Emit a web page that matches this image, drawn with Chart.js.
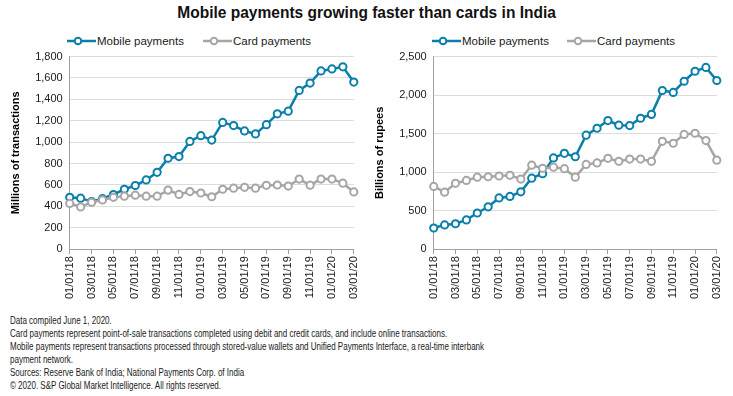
<!DOCTYPE html>
<html>
<head>
<meta charset="utf-8">
<script src="https://cdn.jsdelivr.net/npm/chart.js@4.4.1/dist/chart.umd.min.js"></script>
<style>
  body { margin: 0; width: 733px; height: 396px; background: #fff; position: relative; overflow: hidden;
         font-family: "Liberation Sans", Arial, sans-serif; color: #1a1a1a; }
  #title { position: absolute; top: 4px; left: 0; width: 733px; text-align: center; font-weight: bold; font-size: 16px;
           transform: scaleX(0.97); transform-origin: 370px 0; color: #111; }
  .box { position: absolute; }
  .legend { position: absolute; top: 35px; font-size: 11.5px; white-space: nowrap; }
  .legend span.item { position: absolute; top: 0; }
  .legend canvas { vertical-align: middle; margin-right: 1px; position: relative; top: -1px; }
  #notes { position: absolute; left: 10px; top: 314px; font-size: 11.5px; line-height: 13px; white-space: nowrap;
           transform: scaleX(0.695); transform-origin: 0 0; }
</style>
</head>
<body>
<div id="title">Mobile payments growing faster than cards in India</div>

<div class="legend" id="legLeft" style="left:67px"></div>
<div class="legend" id="legRight" style="left:432px"></div>

<div class="box" style="left:0px; top:43px; width:369px; height:258px;"><canvas id="chartLeft"></canvas></div>
<div class="box" style="left:366px; top:43px; width:366px; height:258px;"><canvas id="chartRight"></canvas></div>

<div id="notes">
Data compiled June 1, 2020.<br>
Card payments represent point-of-sale transactions completed using debit and credit cards, and include online transactions.<br>
Mobile payments represent transactions processed through stored-value wallets and Unified Payments Interface, a real-time interbank<br>
payment network.<br>
Sources: Reserve Bank of India; National Payments Corp. of India<br>
&copy; 2020. S&amp;P Global Market Intelligence. All rights reserved.
</div>

<script>
const months = [
  '01/01/18','02/01/18','03/01/18','04/01/18','05/01/18','06/01/18','07/01/18','08/01/18','09/01/18',
  '10/01/18','11/01/18','12/01/18','01/01/19','02/01/19','03/01/19','04/01/19','05/01/19','06/01/19',
  '07/01/19','08/01/19','09/01/19','10/01/19','11/01/19','12/01/19','01/01/20','02/01/20','03/01/20'
];

// millions of transactions
const mobileVolume = [485,477,445,472,511,560,595,647,718,850,866,1007,1061,1020,1185,1155,1105,1077,1164,1265,1290,1484,1553,1666,1685,1704,1562];
const cardVolume   = [428,395,438,460,485,495,505,495,495,552,512,538,525,490,560,570,578,570,597,600,590,655,598,655,655,617,535];

// billions of rupees
const mobileValue = [275,315,330,380,470,550,665,685,745,922,979,1185,1245,1200,1480,1570,1670,1610,1605,1700,1750,2060,2035,2180,2310,2360,2190];
const cardValue   = [815,740,855,892,935,940,950,960,910,1090,1050,1065,1045,935,1100,1120,1180,1140,1170,1170,1140,1400,1375,1490,1505,1410,1155];

const blue = '#0B7FAB';
const grey = '#A6A6A6';
const seriesNames = ['Mobile payments', 'Card payments'];

function legendIcon(color) {
  const c = document.createElement('canvas');
  c.width = 29; c.height = 10;
  const g = c.getContext('2d');
  g.strokeStyle = color; g.lineWidth = 2.5;
  g.beginPath(); g.moveTo(0, 5); g.lineTo(29, 5); g.stroke();
  g.fillStyle = '#fff'; g.lineWidth = 2;
  g.beginPath(); g.arc(11, 5, 3.3, 0, Math.PI * 2); g.fill(); g.stroke();
  return c;
}

function buildLegend(id, offsets) {
  const el = document.getElementById(id);
  [blue, grey].forEach((col, i) => {
    const s = document.createElement('span');
    s.className = 'item';
    s.style.left = offsets[i] + 'px';
    s.appendChild(legendIcon(col));
    s.appendChild(document.createTextNode(seriesNames[i]));
    el.appendChild(s);
  });
}
buildLegend('legLeft', [0, 136]);
buildLegend('legRight', [0, 135]);

const font = { family: '"Liberation Sans", Arial, sans-serif', size: 11 };

function ds(label, data, color) {
  return {
    label: label, data: data, borderColor: color, backgroundColor: '#fff',
    borderWidth: 2.5, pointRadius: 3.6, pointBorderWidth: 2, pointBackgroundColor: '#fff',
    pointBorderColor: color, tension: 0
  };
}

function makeChart(id, mobile, card, max, step, yTitle, pad) {
  new Chart(document.getElementById(id), {
    type: 'line',
    data: {
      labels: months,
      datasets: [ds(seriesNames[1], card, grey), ds(seriesNames[0], mobile, blue)]
    },
    options: {
      responsive: true,
      maintainAspectRatio: false,
      animation: false,
      layout: { padding: pad },
      plugins: { legend: { display: false }, tooltip: { enabled: false } },
      scales: {
        x: {
          grid: { drawOnChartArea: false, color: '#A0A0A0', tickLength: 5,
                  lineWidth: ctx => (ctx.index % 2 === 0 ? 1 : 0) },
          border: { color: '#A0A0A0' },
          ticks: {
            autoSkip: false, maxRotation: 90, minRotation: 90, color: '#1a1a1a', font: font, padding: 2,
            callback: (v, i) => (i % 2 === 0 ? months[i] : '')
          }
        },
        y: {
          min: 0, max: max,
          grid: { color: '#DCDCDC', drawTicks: false },
          border: { display: true, color: '#A0A0A0' },
          ticks: { stepSize: step, color: '#1a1a1a', font: font, padding: 7 },
          title: { display: true, text: yTitle, color: '#000',
                   font: { family: font.family, size: 11, weight: 'bold' }, padding: { bottom: 6 } }
        }
      }
    }
  });
}

makeChart('chartLeft', mobileVolume, cardVolume, 1800, 200, 'Millions of transactions', { left: 5, right: 7, top: 4 });
makeChart('chartRight', mobileValue, cardValue, 2500, 500, 'Billions of rupees', { left: 3, right: 9, top: 4 });
</script>
</body>
</html>
